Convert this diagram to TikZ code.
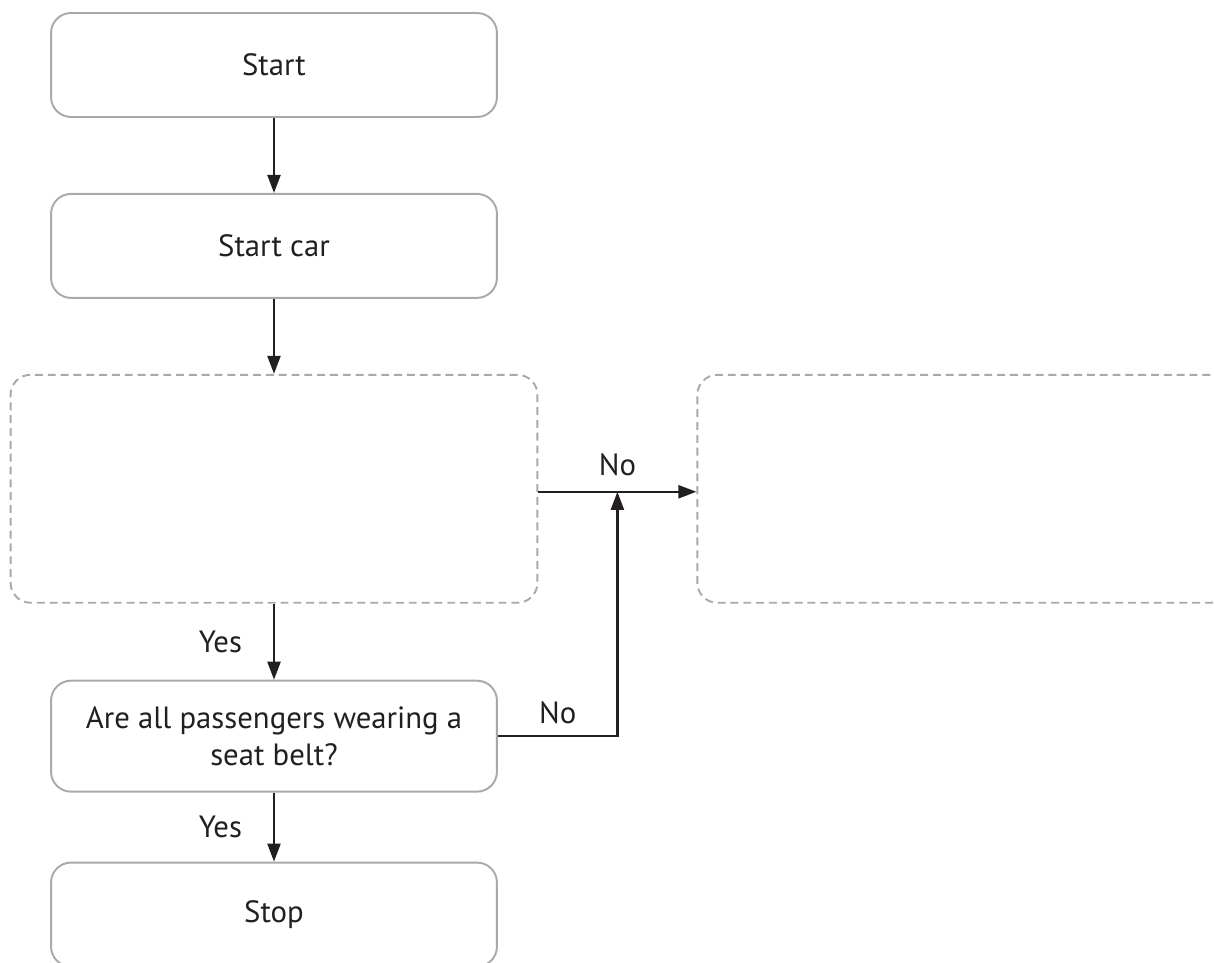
\documentclass[tikz,border=0pt]{standalone}
\usepackage{fontspec}
\setmainfont{PT Sans}
\usetikzlibrary{arrows.meta,positioning,calc}
\definecolor{boxgray}{RGB}{167,169,172}
\definecolor{ink}{RGB}{35,31,32}

\begin{document}
\begin{tikzpicture}[x=0.02cm, y=-0.02cm, node distance=1.52cm,
        every node/.style={font=\fontsize{17.5}{21}\selectfont, text=ink},
        box/.style={draw=boxgray, line width=1.1pt, rounded corners=0.4cm, minimum width=8.92cm, minimum height=2.08cm, align=center},
        ghost/.style={draw=boxgray, line width=1.1pt, dash pattern=on 4.5pt off 2.8pt, rounded corners=0.4cm, minimum width=10.54cm, minimum height=4.56cm},
        arr/.style={draw=ink, line width=1.3pt, -{Triangle[length=0.36cm, width=0.26cm]}}]

        \useasboundingbox (0,0) rectangle (1214,963);
        \clip (0,0) rectangle (1214,963);

        \node[box] (start) at (274,65) {Start};
        \node[box, below=1.5cm of start] (car) {Start car};
        \node[ghost, below=1.5cm of car] (check) {};
        \node[ghost, right=3.16cm of check, minimum width=10.66cm] (action) {};
        \node[box, below=of check, minimum height=2.22cm] (belts) {Are all passengers wearing a\\seat belt?};
        \node[box, below=1.38cm of belts] (stop) {Stop};

        % exits of the empty decision, a bit below its centre
        \coordinate (out) at ([yshift=-0.06cm]check.east);
        \coordinate (in) at (out -| action.west);
        \coordinate (join) at ($(out)!.5!(in)$);

        \draw[arr] (start) -- (car);
        \draw[arr] (car) -- (check);
        \draw[arr] (out) -- node[above=0.18cm] {No} (in);
        \draw[arr] (check) -- node[left=0.5cm] {Yes} (belts);
        \draw[arr] (belts.east) -| node[pos=.25, above=0.1cm] {No} (join);
        \draw[arr] (belts) -- node[left=0.5cm] {Yes} (stop);
      \end{tikzpicture}
\end{document}
